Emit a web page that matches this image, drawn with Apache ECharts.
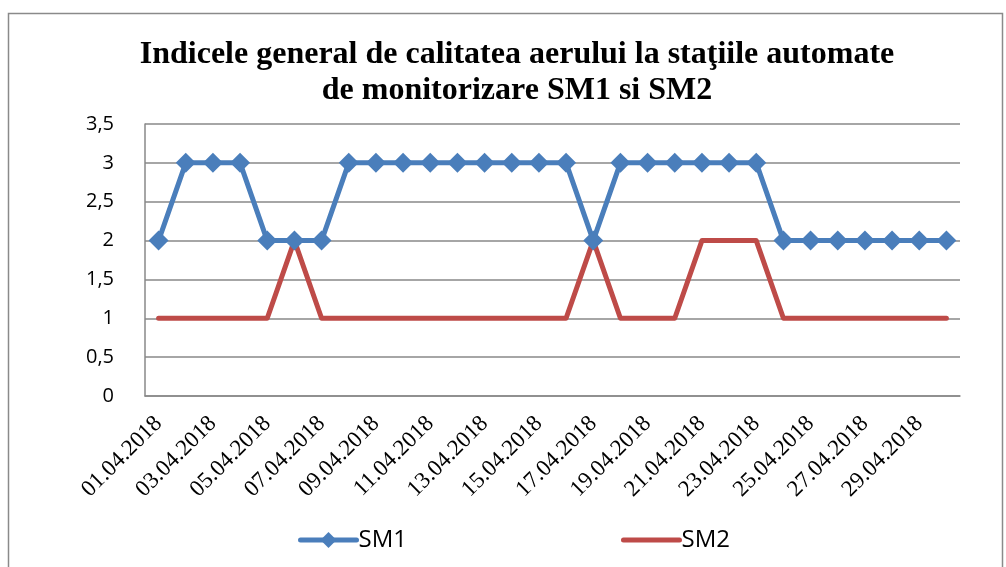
<!DOCTYPE html>
<html><head><meta charset="utf-8">
<script src="https://cdn.jsdelivr.net/npm/echarts@6/dist/echarts.min.js"></script>
<style>html,body{margin:0;padding:0;background:#fff}#c{width:1006px;height:567px}</style>
</head><body><div id="c"></div>
<script>
const categories = [];
for (let d = 1; d <= 30; d++) categories.push((d < 10 ? '0' + d : '' + d) + '.04.2018');
const sm1 = [2,3,3,3,2,2,2,3,3,3,3,3,3,3,3,3,2,3,3,3,3,3,3,2,2,2,2,2,2,2];
const sm2 = [1,1,1,1,1,2,1,1,1,1,1,1,1,1,1,1,2,1,1,1,2,2,2,1,1,1,1,1,1,1];
const yTicks = ['0','0,5','1','1,5','2','2,5','3','3,5'];

const chart = echarts.init(document.getElementById('c'), null, {renderer: 'canvas'});
chart.setOption({
  animation: false,
  graphic: [{type: 'rect', shape: {x: 8.5, y: 13.5, width: 994, height: 600}, style: {fill: 'none', stroke: '#8a8a8a', lineWidth: 1.5}, silent: true}],
  title: {
    text: 'Indicele general de calitatea aerului la staţiile automate\nde monitorizare SM1 si SM2',
    left: 512, top: 32, textAlign: 'center',
    textStyle: {fontFamily: 'Liberation Serif', fontWeight: 'bold', fontSize: 32, lineHeight: 36, color: '#000'}
  },
  legend: {
    data: [{name: 'SM1'}, {name: 'SM2', itemStyle: {opacity: 0}}],
    left: 298, top: 528, padding: 0, itemWidth: 56, itemHeight: 20, itemGap: 214,
    lineStyle: {width: 5, cap: 'round'},
    textStyle: {fontFamily: 'Open Sans', fontSize: 24, color: '#000', padding: [0, 0, 0, -3]}
  },
  grid: {left: 145, right: 46, top: 124, bottom: 171},
  xAxis: {
    type: 'category', data: categories, boundaryGap: true,
    axisLine: {lineStyle: {color: '#898989', width: 1.5}},
    axisTick: {show: false},
    axisLabel: {interval: 1, rotate: 45, margin: 24, fontFamily: 'Liberation Serif', fontSize: 23, color: '#000'}
  },
  yAxis: {
    type: 'value', min: 0, max: 3.5, interval: 0.5,
    axisLine: {show: true, lineStyle: {color: '#898989', width: 1.5}},
    axisTick: {show: false},
    splitLine: {lineStyle: {color: '#898989', width: 1.5}},
    axisLabel: {margin: 31, fontFamily: 'Open Sans', fontSize: 20, color: '#000',
      formatter: v => yTicks[Math.round(v * 2)]}
  },
  series: [
    {name: 'SM1', type: 'line', data: sm1, symbol: 'diamond', symbolSize: 20, showAllSymbol: true,
     lineStyle: {color: '#4a7ebb', width: 5, cap: 'round', join: 'round'}, itemStyle: {color: '#4a7ebb'}},
    {name: 'SM2', type: 'line', data: sm2, symbol: 'none', showSymbol: false,
     lineStyle: {color: '#be4b48', width: 5, cap: 'round', join: 'round'}, itemStyle: {color: '#be4b48'}}
  ]
});
</script></body></html>
